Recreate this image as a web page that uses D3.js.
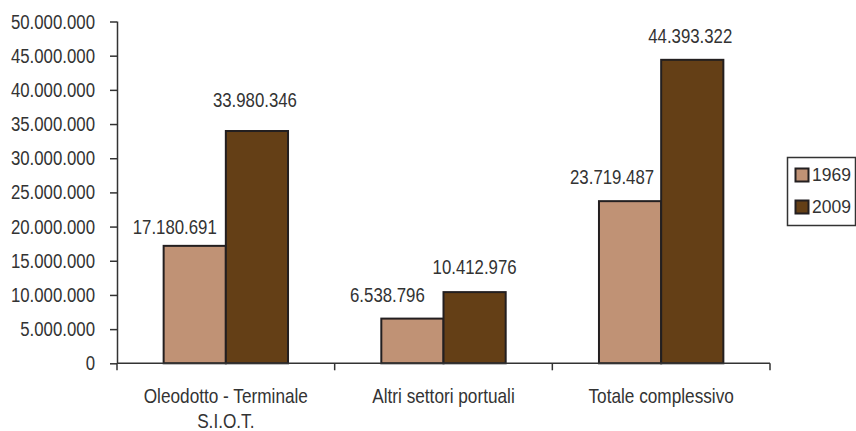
<!DOCTYPE html>
<html>
<head>
<meta charset="utf-8">
<script src="https://cdn.jsdelivr.net/npm/d3@7"></script>
<style>
  body { margin: 0; background: #fff; }
  text { font-family: 'Liberation Sans', Arial, sans-serif; fill: #333; }
</style>
</head>
<body>
<div class="container"></div>
<script>
(function () {
  const categories = [['Oleodotto - Terminale', 'S.I.O.T.'], ['Altri settori portuali'], ['Totale complessivo']]
  const seriesNames = ['1969', '2009']
  const values1969 = [17180691, 6538796, 23719487]
  const values2009 = [33980346, 10412976, 44393322]
  const yTicks = [0, 5e6, 10e6, 15e6, 20e6, 25e6, 30e6, 35e6, 40e6, 45e6, 50e6]

  const colors = { '1969': '#C09275', '2009': '#643F16' }

  // hand-placed data labels in the original: nudge [dx, gap above bar]
  const labelNudge = {
    '1969': [[-20, 12], [-25, 17], [-18, 17]],
    '2009': [[-2, 24], [0, 18], [-2, 17]]
  }

  const width = 856
  const height = 431
  const left = 117
  const right = 770
  const top = 21.5
  const bottom = 363.3
  const NARROW = 0.82 // no Arial Narrow here, so squeeze Liberation Sans

  const locale = d3.formatLocale({ decimal: ',', thousands: '.', grouping: [3], currency: ['', ''] })
  const fmt = locale.format(',d')

  // squeeze text horizontally, keeping its anchor point
  function squeeze (sel) {
    sel.each(function () {
      const t = d3.select(this)
      const x = +t.attr('x') || 0
      t.attr('x', x / NARROW).attr('transform', 'scale(' + NARROW + ',1)')
      t.selectAll('tspan').each(function () {
        const s = d3.select(this)
        s.attr('x', (+s.attr('x') || 0) / NARROW)
      })
    })
  }

  const data = categories.map(function (c, i) {
    return { cat: i, '1969': values1969[i], '2009': values2009[i] }
  })

  const svg = d3.select('.container')
    .append('svg')
    .attr('width', width)
    .attr('height', height)

  const x0 = d3.scaleBand().domain(d3.range(categories.length)).range([left, right])
  const gap = x0.bandwidth() * 1.5 / 3.5 / 2
  const x1 = d3.scaleBand().domain(seriesNames).range([gap, x0.bandwidth() - gap])
  const y = d3.scaleLinear().domain([0, 50e6]).range([bottom, top])

  // bars
  const groups = svg.selectAll('g.cat')
    .data(data)
    .enter().append('g')
    .attr('class', 'cat')
    .attr('transform', function (d) { return 'translate(' + x0(d.cat) + ',0)' })

  groups.selectAll('rect')
    .data(function (d) { return seriesNames.map(function (s) { return { s: s, v: d[s], cat: d.cat } }) })
    .enter().append('rect')
    .attr('x', function (d) { return x1(d.s) })
    .attr('y', function (d) { return y(d.v) })
    .attr('width', x1.bandwidth())
    .attr('height', function (d) { return bottom - y(d.v) })
    .style('fill', function (d) { return colors[d.s] })
    .style('stroke', '#231F20')
    .style('stroke-width', 2)

  groups.selectAll('text.val')
    .data(function (d) { return seriesNames.map(function (s) { return { s: s, v: d[s], cat: d.cat } }) })
    .enter().append('text')
    .attr('class', 'val')
    .attr('x', function (d) { return x1(d.s) + x1.bandwidth() / 2 + labelNudge[d.s][d.cat][0] })
    .attr('y', function (d) { return y(d.v) - labelNudge[d.s][d.cat][1] })
    .attr('text-anchor', 'middle')
    .style('font-size', '20.5px')
    .text(function (d) { return fmt(d.v) })
    .call(squeeze)

  // y axis
  const yAxis = svg.append('g')
    .attr('transform', 'translate(' + left + ',0)')
    .call(d3.axisLeft(y).tickValues(yTicks).tickFormat(fmt).tickSize(7).tickPadding(15).tickSizeOuter(0))
  yAxis.select('.domain').attr('d', 'M0.5,' + top + 'V' + bottom)
  yAxis.selectAll('line, path').style('stroke', '#333').style('stroke-width', 1.5)
  yAxis.selectAll('text')
    .style('font-size', '20.5px').style('fill', '#333')
    .attr('font-family', null)
    .call(squeeze)

  // x axis
  const xAxis = svg.append('g')
    .attr('transform', 'translate(0,' + bottom + ')')
  xAxis.append('path')
    .attr('d', 'M' + left + ',0H' + right)
    .style('stroke', '#333').style('stroke-width', 1.5)
  xAxis.selectAll('line.tick')
    .data(d3.range(categories.length + 1))
    .enter().append('line')
    .attr('class', 'tick')
    .attr('x1', function (i) { return i < categories.length ? x0(i) : right })
    .attr('x2', function (i) { return i < categories.length ? x0(i) : right })
    .attr('y1', 0).attr('y2', 7)
    .style('stroke', '#333').style('stroke-width', 1.5)

  const catLabels = xAxis.selectAll('text.cat')
    .data(categories)
    .enter().append('text')
    .attr('class', 'cat')
    .attr('text-anchor', 'middle')
    .style('font-size', '21px')
  catLabels.selectAll('tspan')
    .data(function (d, i) { return d.map(function (line) { return { line: line, i: i } }) })
    .enter().append('tspan')
    .attr('x', function (d) { return x0(d.i) + x0.bandwidth() / 2 })
    .attr('y', function (d, j) { return 40 + j * 24.5 })
    .text(function (d) { return d.line })
  catLabels.call(squeeze)

  // legend
  const legend = svg.append('g').attr('transform', 'translate(787,157)')
  legend.append('rect')
    .attr('x', 0.5).attr('y', 0.5).attr('width', 68).attr('height', 68)
    .style('fill', '#fff').style('stroke', '#333').style('stroke-width', 1.5)
  const items = legend.selectAll('g.item')
    .data(seriesNames)
    .enter().append('g')
    .attr('class', 'item')
    .attr('transform', function (d, i) { return 'translate(0,' + (18 + i * 32) + ')' })
  items.append('rect')
    .attr('x', 8.5).attr('y', -6.5).attr('width', 13).attr('height', 13)
    .style('fill', function (d) { return colors[d] })
    .style('stroke', '#231F20').style('stroke-width', 2)
  items.append('text')
    .attr('x', 25).attr('dy', '0.36em')
    .style('font-size', '17.5px')
    .text(function (d) { return d })
}())
</script>
</body>
</html>
